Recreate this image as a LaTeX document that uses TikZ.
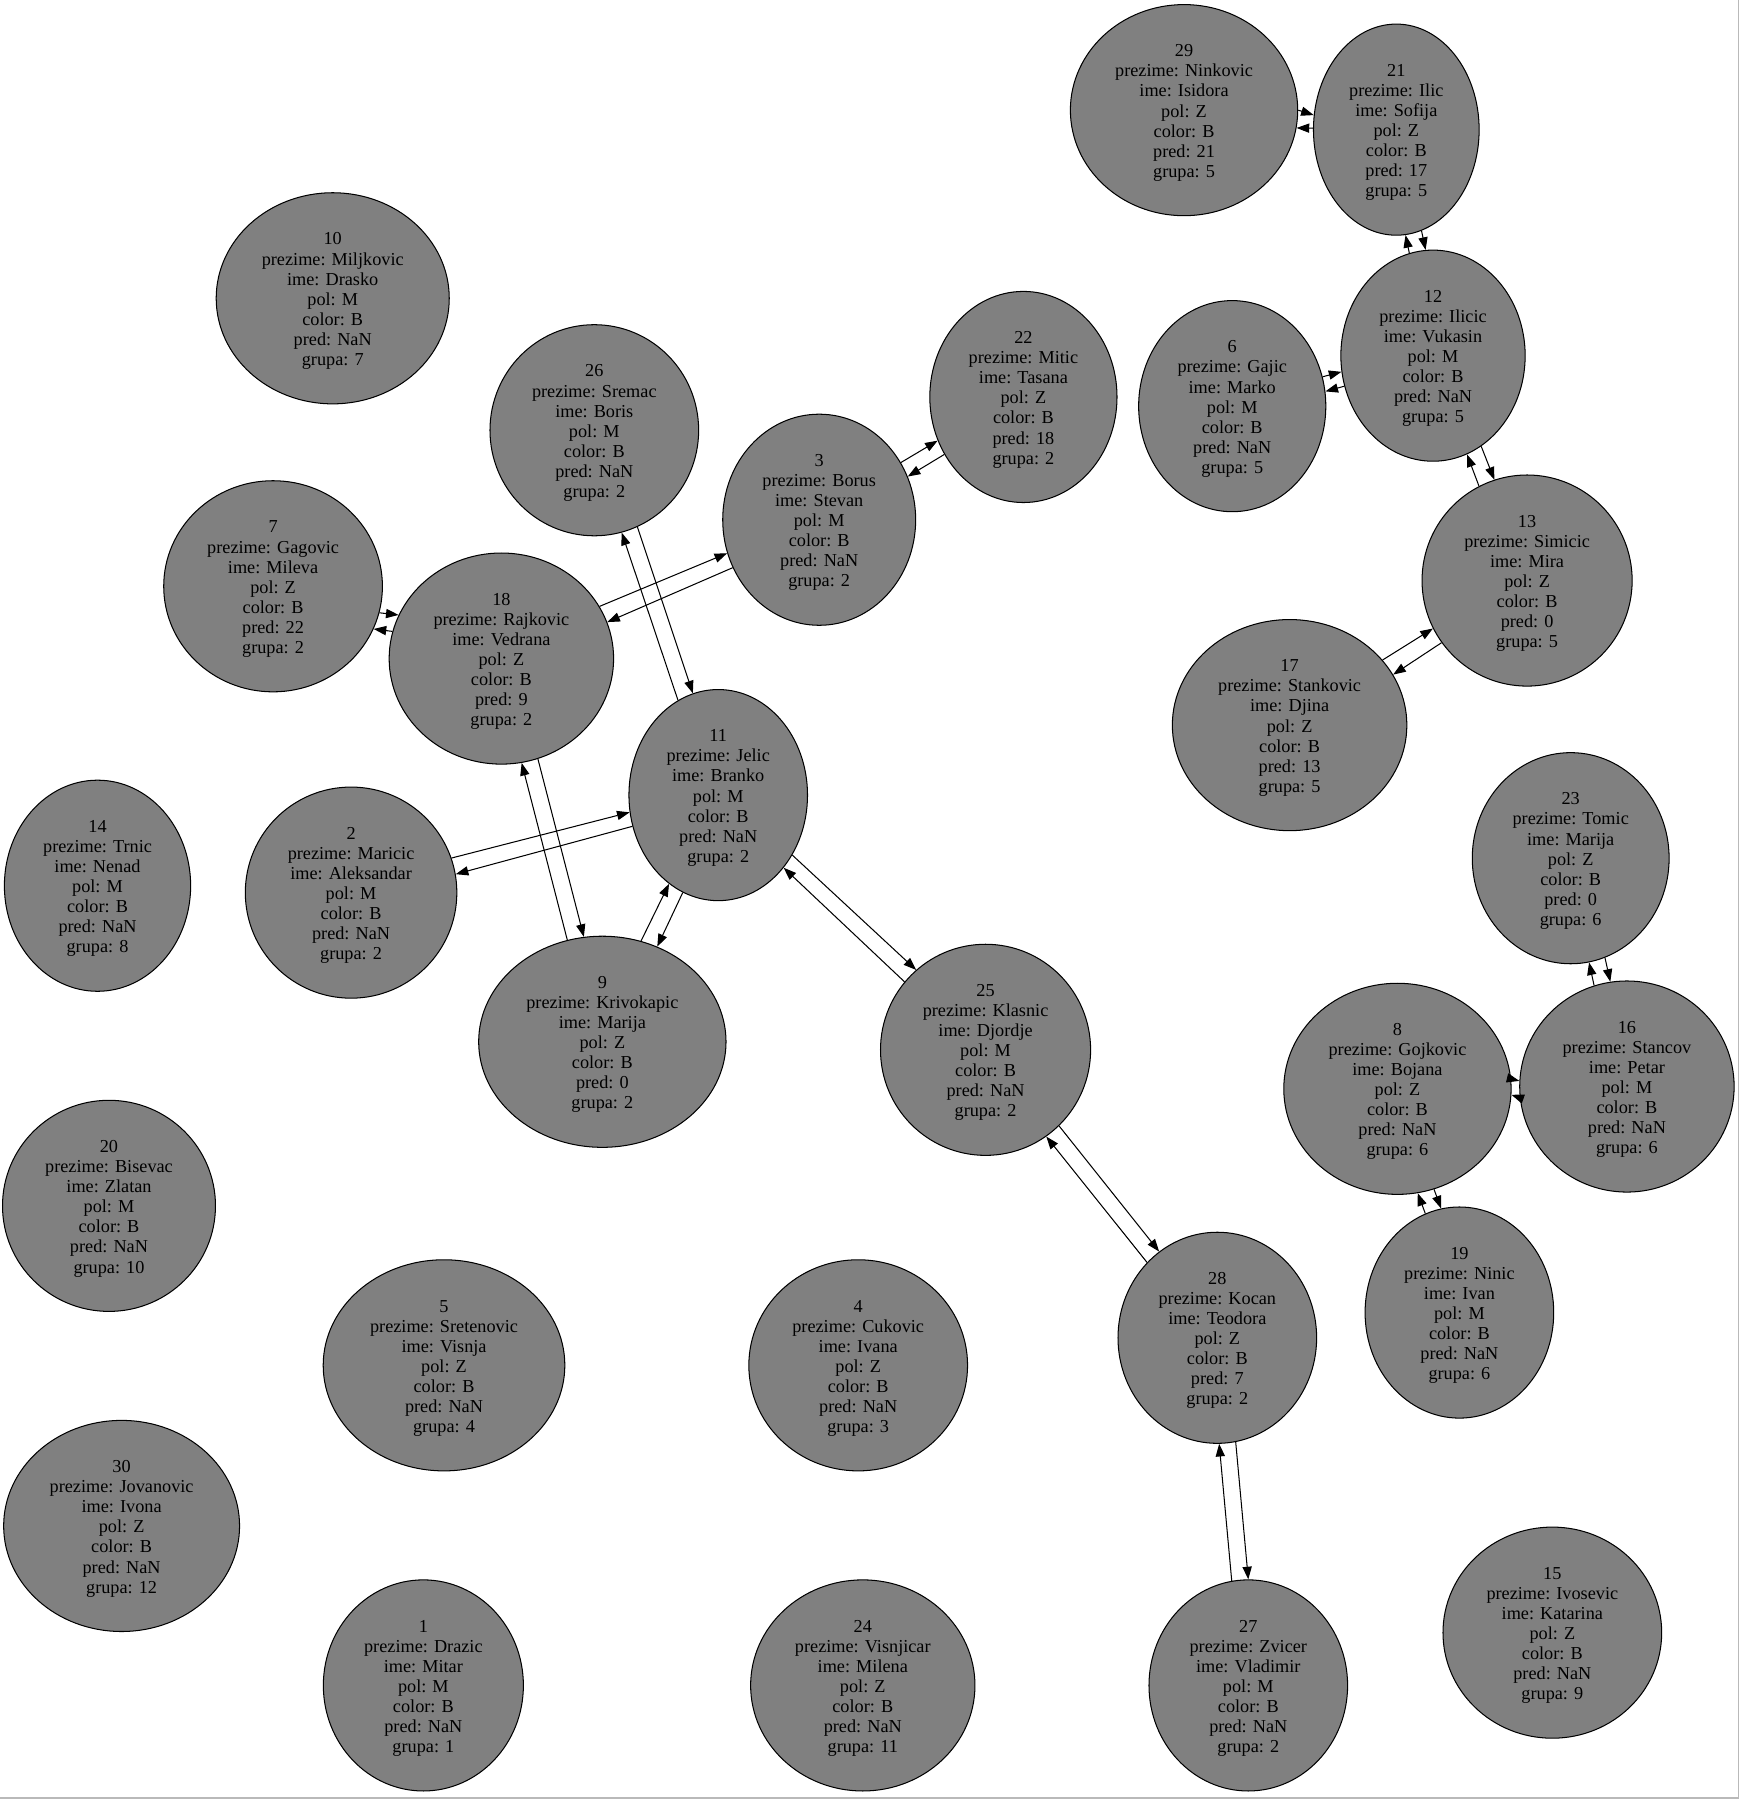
\documentclass[tikz,border=0pt]{standalone}
\usepackage{fontspec}
\setmainfont{Liberation Serif}
\usetikzlibrary{shapes.geometric,arrows.meta,calc}
\tikzset{
  osobanode/.style={ellipse, draw=black, line width=0.9pt, fill=gray, inner xsep=10pt, inner ysep=0pt,
    minimum height=184pt, align=center, font=\fontsize{15.9}{17.5}\selectfont},
  conn/.style={-{Triangle[length=11pt,width=8pt]}, line width=0.9pt}
}
\newcommand\osoba[8]{\node[osobanode] (n#1) at (#2,#3) {\rule{0pt}{15.5pt}#1\\prezime: #4\\ime: #5\\pol: #6\\color: B\\pred: #7\\grupa: #8};}
\newcommand\biedge[2]{%
  \draw[conn] let \p1=($(n#2)-(n#1)$), \n1={atan2(\y1,\x1)} in (n#1.{\n1+4.5}) -- (n#2.{\n1+175.5});
  \draw[conn] let \p1=($(n#2)-(n#1)$), \n1={atan2(\y1,\x1)} in (n#2.{\n1+184.5}) -- (n#1.{\n1-4.5});}
\begin{document}
\begin{tikzpicture}[x=1pt,y=-1pt]
\useasboundingbox (0,0) rectangle (1516,1568);
\fill[white] (0,0) rectangle (1516,1568);
\osoba{29}{1032}{96}{Ninkovic}{Isidora}{Z}{21}{5}
\osoba{21}{1217}{113}{Ilic}{Sofija}{Z}{17}{5}
\osoba{12}{1249}{310}{Ilicic}{Vukasin}{M}{NaN}{5}
\osoba{6}{1074}{354}{Gajic}{Marko}{M}{NaN}{5}
\osoba{22}{892}{346}{Mitic}{Tasana}{Z}{18}{2}
\osoba{13}{1331}{506}{Simicic}{Mira}{Z}{0}{5}
\osoba{17}{1124}{632}{Stankovic}{Djina}{Z}{13}{5}
\osoba{10}{290}{260}{Miljkovic}{Drasko}{M}{NaN}{7}
\osoba{26}{518}{375}{Sremac}{Boris}{M}{NaN}{2}
\osoba{3}{714}{453}{Borus}{Stevan}{M}{NaN}{2}
\osoba{7}{238}{511}{Gagovic}{Mileva}{Z}{22}{2}
\osoba{18}{437}{574}{Rajkovic}{Vedrana}{Z}{9}{2}
\osoba{11}{626}{693}{Jelic}{Branko}{M}{NaN}{2}
\osoba{14}{85}{772}{Trnic}{Nenad}{M}{NaN}{8}
\osoba{2}{306}{778}{Maricic}{Aleksandar}{M}{NaN}{2}
\osoba{9}{525}{908}{Krivokapic}{Marija}{Z}{0}{2}
\osoba{25}{859}{915}{Klasnic}{Djordje}{M}{NaN}{2}
\osoba{23}{1369}{748}{Tomic}{Marija}{Z}{0}{6}
\osoba{8}{1218}{949}{Gojkovic}{Bojana}{Z}{NaN}{6}
\osoba{16}{1418}{947}{Stancov}{Petar}{M}{NaN}{6}
\osoba{19}{1272}{1144}{Ninic}{Ivan}{M}{NaN}{6}
\osoba{20}{95}{1051}{Bisevac}{Zlatan}{M}{NaN}{10}
\osoba{5}{387}{1190}{Sretenovic}{Visnja}{Z}{NaN}{4}
\osoba{4}{748}{1190}{Cukovic}{Ivana}{Z}{NaN}{3}
\osoba{28}{1061}{1166}{Kocan}{Teodora}{Z}{7}{2}
\osoba{30}{106}{1330}{Jovanovic}{Ivona}{Z}{NaN}{12}
\osoba{1}{369}{1469}{Drazic}{Mitar}{M}{NaN}{1}
\osoba{24}{752}{1469}{Visnjicar}{Milena}{Z}{NaN}{11}
\osoba{27}{1088}{1469}{Zvicer}{Vladimir}{M}{NaN}{2}
\osoba{15}{1353}{1423}{Ivosevic}{Katarina}{Z}{NaN}{9}
\biedge{29}{21}
\biedge{21}{12}
\biedge{12}{6}
\biedge{12}{13}
\biedge{13}{17}
\biedge{22}{3}
\biedge{3}{18}
\biedge{18}{7}
\biedge{18}{9}
\biedge{26}{11}
\biedge{11}{2}
\biedge{11}{9}
\biedge{11}{25}
\biedge{25}{28}
\biedge{28}{27}
\biedge{23}{16}
\biedge{16}{8}
\biedge{8}{19}
\draw[gray!55, line width=1.2pt] (1515,0) -- (1515,1567) -- (0,1567);
\end{tikzpicture}
\end{document}
